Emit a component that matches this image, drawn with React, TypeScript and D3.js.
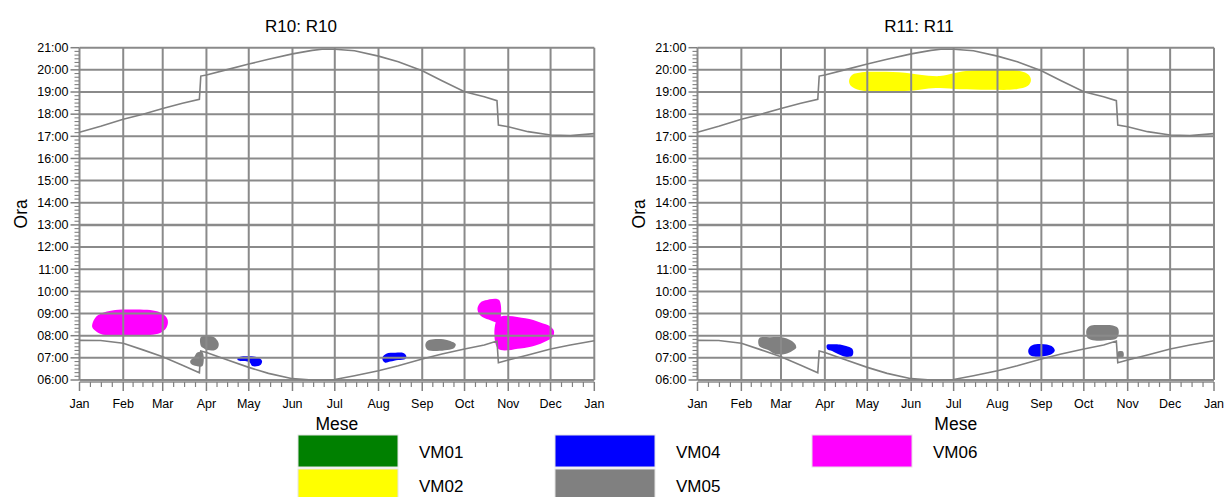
import React from 'react';
import * as d3 from 'd3';

// ---------- data ----------
const monthLabels = ['Jan', 'Feb', 'Mar', 'Apr', 'May', 'Jun', 'Jul', 'Aug', 'Sep', 'Oct', 'Nov', 'Dec', 'Jan'];
const monthStartDays = [0, 31, 59, 90, 120, 151, 181, 212, 243, 273, 304, 334, 365];
const hourTicks = [6, 7, 8, 9, 10, 11, 12, 13, 14, 15, 16, 17, 18, 19, 20, 21];
const hourLabels = ['06:00', '07:00', '08:00', '09:00', '10:00', '11:00', '12:00', '13:00', '14:00', '15:00', '16:00', '17:00', '18:00', '19:00', '20:00', '21:00'];

const lineDays = [0, 15, 31, 45, 59, 73, 85, 86, 90, 104, 120, 134, 151, 165, 172, 181, 195, 212, 226, 243, 257, 273, 287, 296, 297, 304, 318, 334, 348, 365];
const sunsetHours = [17.18, 17.45, 17.77, 18.0, 18.26, 18.49, 18.67, 19.72, 19.77, 20.0, 20.26, 20.48, 20.72, 20.88, 20.93, 20.93, 20.86, 20.62, 20.37, 19.96, 19.51, 19.01, 18.79, 18.61, 17.51, 17.43, 17.21, 17.06, 17.03, 17.12];
const sunriseHours = [7.79, 7.78, 7.66, 7.36, 7.05, 6.67, 6.33, 7.31, 7.24, 6.93, 6.57, 6.3, 6.06, 6.0, 6.0, 6.02, 6.19, 6.42, 6.64, 6.95, 7.17, 7.4, 7.58, 7.76, 6.78, 6.9, 7.13, 7.4, 7.58, 7.77];

const seriesNames = ['VM01', 'VM02', 'VM04', 'VM05', 'VM06'];
const seriesColors = ['#008000', '#ffff00', '#0000ff', '#808080', '#ff00ff'];

type Blob = { series: string; points: [number, number][] }; // [dayOfYear, hour]

const r10Blobs: Blob[] = [
  { series: 'VM06', points: [[9.0, 8.39], [11.1, 8.8], [16.1, 9.02], [23.2, 9.14], [32.4, 9.18], [50.1, 9.16], [57.2, 9.05], [61.5, 8.84], [62.7, 8.62], [61.5, 8.35], [57.2, 8.12], [50.1, 8.03], [28.9, 8.01], [18.2, 8.03], [12.6, 8.16]] },
  { series: 'VM05', points: [[86.1, 7.94], [94.8, 7.95], [96.9, 7.85], [98.6, 7.67], [98.4, 7.49], [96.2, 7.35], [90.6, 7.35], [87.7, 7.44], [86.1, 7.53]] },
  { series: 'VM05', points: [[78.5, 6.86], [81.3, 7.04], [83.5, 7.24], [87.2, 7.25], [87.2, 6.63], [82.8, 6.63], [79.2, 6.72]] },
  { series: 'VM04', points: [[112.1, 6.99], [114.0, 7.05], [124.6, 7.05], [127.4, 6.99], [129.4, 6.86], [128.9, 6.72], [126.7, 6.63], [122.5, 6.63], [120.4, 6.81], [114.0, 6.86], [112.1, 6.9]] },
  { series: 'VM04', points: [[214.9, 7.04], [217.5, 7.19], [223.9, 7.23], [229.6, 7.22], [231.7, 7.08], [231.0, 6.95], [226.0, 6.9], [220.3, 6.83], [216.8, 6.78], [215.0, 6.89]] },
  { series: 'VM05', points: [[245.2, 7.58], [246.6, 7.76], [250.9, 7.84], [258.0, 7.84], [262.9, 7.76], [266.7, 7.62], [265.7, 7.44], [260.8, 7.35], [252.3, 7.31], [246.6, 7.37]] },
  { series: 'VM06', points: [[297.4, 9.62], [287.7, 9.6], [284.2, 9.49], [282.2, 9.25], [283.1, 9.0], [286.3, 8.82], [291.3, 8.7], [297.4, 8.6]] },
  { series: 'VM06', points: [[296.7, 8.79], [316.1, 8.79], [326.7, 8.6], [333.8, 8.42], [336.4, 8.21], [335.5, 7.94], [330.3, 7.74], [323.2, 7.56], [312.6, 7.42], [296.7, 7.42]] },
];

const r11Blobs: Blob[] = [
  { series: 'VM02', points: [[107.1, 19.5], [109.2, 19.77], [116.2, 19.89], [129.0, 19.91], [146.6, 19.87], [157.2, 19.78], [171.3, 19.72], [181.9, 19.86], [192.5, 19.97], [213.7, 19.99], [227.8, 19.95], [234.2, 19.77], [235.6, 19.52], [233.5, 19.28], [224.3, 19.12], [206.6, 19.1], [185.5, 19.12], [171.3, 19.18], [160.8, 19.14], [150.2, 19.06], [129.0, 19.03], [114.9, 19.08], [108.5, 19.27]] },
  { series: 'VM05', points: [[43.6, 7.89], [51.3, 7.93], [60.5, 7.92], [65.4, 7.8], [69.0, 7.62], [69.7, 7.44], [66.9, 7.31], [61.9, 7.17], [54.9, 7.17], [49.9, 7.35], [43.6, 7.53]] },
  { series: 'VM04', points: [[91.4, 7.58], [93.7, 7.61], [100.7, 7.6], [105.0, 7.53], [109.2, 7.42], [110.1, 7.26], [109.2, 7.08], [104.3, 7.05], [99.3, 7.17], [95.1, 7.31], [91.6, 7.4]] },
  { series: 'VM04', points: [[233.7, 7.31], [235.6, 7.53], [240.5, 7.62], [246.9, 7.6], [251.1, 7.49], [252.5, 7.33], [250.4, 7.17], [245.5, 7.08], [239.1, 7.05], [234.9, 7.13]] },
  { series: 'VM05', points: [[274.9, 8.26], [277.3, 8.44], [284.3, 8.48], [293.5, 8.46], [297.0, 8.35], [297.7, 8.12], [296.3, 7.89], [290.0, 7.8], [280.8, 7.78], [275.8, 7.89], [274.9, 8.03]] },
  { series: 'VM05', points: [[297.2, 7.28], [300.8, 7.28], [300.8, 7.02], [297.2, 7.02]] },
];

// ---------- layout ----------
const W = 1225;
const H = 497;
const PLOT_TOP = 47.7;
const PLOT_BOTTOM = 380;
const FONT = 'Arial, "Liberation Sans", sans-serif';
const GRID = '#8a8a8a';

const colorOf = (s: string) => seriesColors[seriesNames.indexOf(s)];

function Panel({ left, right, title, blobs }: { left: number; right: number; title: string; blobs: Blob[] }) {
  const x = d3.scaleLinear().domain([0, 365]).range([left, right]);
  const y = d3.scaleLinear().domain([6, 21]).range([PLOT_BOTTOM, PLOT_TOP]);
  const blobPath = d3
    .line<[number, number]>()
    .x((d) => x(d[0]))
    .y((d) => y(d[1]))
    .curve(d3.curveCatmullRomClosed.alpha(0.5));
  const sunset = d3
    .line<number>()
    .x((d) => x(d))
    .y((_, i) => y(sunsetHours[i]))(lineDays) || '';
  const sunrise = d3
    .line<number>()
    .x((d) => x(d))
    .y((_, i) => y(sunriseHours[i]))(lineDays) || '';

  const minorX: number[] = [];
  for (let i = 0; i < monthStartDays.length - 1; i++) {
    const a = monthStartDays[i];
    const b = monthStartDays[i + 1];
    for (let k = 1; k < 4; k++) minorX.push(a + ((b - a) * k) / 4);
  }
  const minorY: number[] = [];
  for (let h = 6; h < 21; h++) for (let k = 1; k < 6; k++) minorY.push(h + k / 6);

  const axisY = PLOT_BOTTOM + 2;
  const cx = (left + right) / 2;

  return (
    <g>
      {blobs.map((b, i) => (
        <path key={'b' + i} d={blobPath(b.points) || ''} fill={colorOf(b.series)} stroke="none" />
      ))}
      {hourTicks.map((h) => (
        <line key={'gh' + h} x1={left} x2={right} y1={y(h)} y2={y(h)} stroke={GRID} strokeWidth={h === 13 ? 2.6 : 2} />
      ))}
      {monthStartDays.map((d, i) => (
        <line key={'gv' + i} x1={x(d)} x2={x(d)} y1={PLOT_TOP} y2={PLOT_BOTTOM} stroke={GRID} strokeWidth={2} />
      ))}
      <path d={sunset} fill="none" stroke="#808080" strokeWidth={1.6} />
      <path d={sunrise} fill="none" stroke="#808080" strokeWidth={1.6} />
      <line x1={left} x2={right} y1={axisY} y2={axisY} stroke={GRID} strokeWidth={1.5} />
      {monthStartDays.map((d, i) => (
        <line key={'xt' + i} x1={x(d)} x2={x(d)} y1={axisY} y2={axisY + 9} stroke="#808080" strokeWidth={1.5} />
      ))}
      {minorX.map((d, i) => (
        <line key={'xm' + i} x1={x(d)} x2={x(d)} y1={axisY} y2={axisY + 5} stroke="#808080" strokeWidth={1.2} />
      ))}
      {monthLabels.map((m, i) => (
        <text key={'xl' + i} x={x(monthStartDays[i])} y={408} textAnchor="middle" fontFamily={FONT} fontSize={12.5} fill="#000">
          {m}
        </text>
      ))}
      {hourTicks.map((h) => (
        <line key={'yt' + h} x1={left - 9} x2={left} y1={y(h)} y2={y(h)} stroke="#808080" strokeWidth={1.5} />
      ))}
      {minorY.map((h, i) => (
        <line key={'ym' + i} x1={left - 5} x2={left} y1={y(h)} y2={y(h)} stroke="#808080" strokeWidth={1.1} />
      ))}
      {hourTicks.map((h, i) => (
        <text key={'yl' + h} x={left - 11} y={y(h) + 4.3} textAnchor="end" fontFamily={FONT} fontSize={12.5} fill="#000">
          {hourLabels[i]}
        </text>
      ))}
      <text x={left + 221.5} y={32} textAnchor="middle" fontFamily={FONT} fontSize={17} fill="#000">
        {title}
      </text>
      <text x={cx} y={430} textAnchor="middle" fontFamily={FONT} fontSize={17.5} fill="#000">
        Mese
      </text>
      <text
        transform={`translate(${left - 52.5},${(PLOT_TOP + PLOT_BOTTOM) / 2}) rotate(-90)`}
        textAnchor="middle"
        fontFamily={FONT}
        fontSize={17.5}
        fill="#000"
      >
        Ora
      </text>
    </g>
  );
}

const legendCols = [298, 555, 812];
const legendRows = [435, 469];

export default function App() {
  const legendItems = seriesNames.map((name, i) => ({
    name,
    color: seriesColors[i],
    col: Math.floor(i / 2),
    row: i % 2,
  }));
  return (
    <svg width={W} height={H} style={{ position: 'absolute', left: 0, top: 0, background: '#fff' }}>
      <rect x={0} y={0} width={W} height={H} fill="#fff" />
      <Panel left={79.5} right={594.3} title="R10: R10" blobs={r10Blobs} />
      <Panel left={697.5} right={1214} title="R11: R11" blobs={r11Blobs} />
      {legendItems.map((it) => (
        <g key={it.name}>
          <rect
            x={legendCols[it.col]}
            y={legendRows[it.row]}
            width={100}
            height={32}
            fill={it.color}
            stroke="#e4e4e4"
            strokeWidth={1}
          />
          <text x={legendCols[it.col] + 121} y={legendRows[it.row] + 23} fontFamily={FONT} fontSize={17} fill="#000">
            {it.name}
          </text>
        </g>
      ))}
    </svg>
  );
}
